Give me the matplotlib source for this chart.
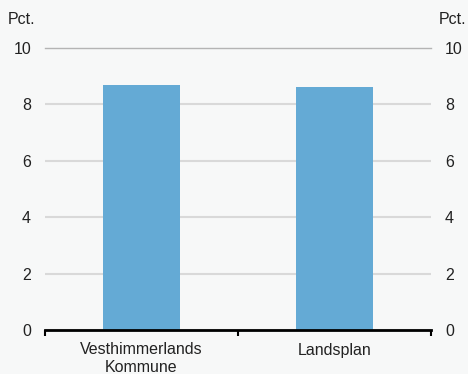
import matplotlib.pyplot as plt
import matplotlib as mpl

mpl.rcParams['font.family'] = ['Liberation Sans', 'DejaVu Sans']

categories = ['Vesthimmerlands\nKommune', 'Landsplan']
values = [8.7, 8.6]
yticks = [0, 2, 4, 6, 8, 10]

bg = '#f7f8f8'
fs = 11.5
fig = plt.figure(figsize=(4.68, 3.74), dpi=100, facecolor=bg)
ax = fig.add_axes([45 / 468, 1 - 330 / 374, 386 / 468, 282 / 374], facecolor=bg)

x = list(range(len(categories)))
ax.bar(x, values, width=0.4, color='#64aad5', zorder=2)

ax.set_xlim(-0.5, len(categories) - 0.5)
ax.set_ylim(0, 10)
ax.set_yticks(yticks)
ax.grid(axis='y', color='#d9d9d9', linewidth=1.5, zorder=0)
ax.tick_params(axis='y', length=0, labelsize=fs, pad=10,
               labelleft=True, labelright=True, colors='#222222')
ax.set_yticklabels([str(v) for v in yticks])
ax.yaxis.get_gridlines()[-1].set_visible(False)

ax.set_xticks([-0.5, 0.5, 1.5])
ax.set_xticklabels([])
ax.tick_params(axis='x', length=4, width=1.5, direction='out', color='black')
ax.set_xticks(x, minor=True)
ax.set_xticklabels(categories, minor=True, fontsize=fs, color='#222222', linespacing=1.25)
ax.tick_params(axis='x', which='minor', length=0, pad=9)

for s in ['left', 'right']:
    ax.spines[s].set_visible(False)
ax.spines['top'].set_color('#b4b4b4')
ax.spines['top'].set_linewidth(1)
ax.spines['bottom'].set_linewidth(2)
ax.spines['bottom'].set_color('black')
ax.spines['bottom'].set_zorder(3)

fig.text(8 / 468, 1 - 20 / 374, 'Pct.', fontsize=fs, color='#222222', va='center', ha='left')
fig.text(466 / 468, 1 - 20 / 374, 'Pct.', fontsize=fs, color='#222222', va='center', ha='right')

fig.savefig('out.png', dpi=100, facecolor=bg)
